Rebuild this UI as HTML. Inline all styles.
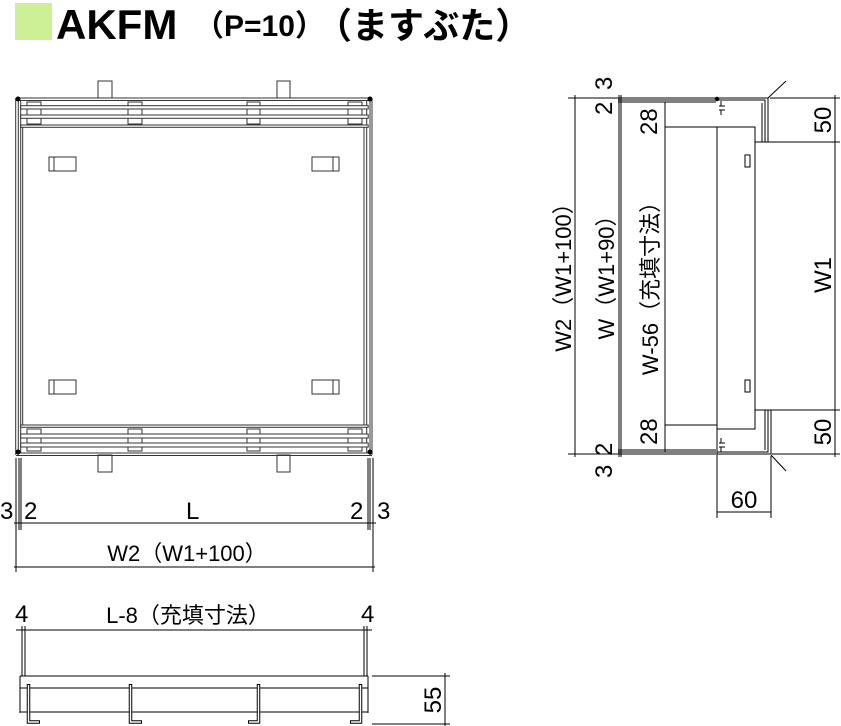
<!DOCTYPE html>
<html><head><meta charset="utf-8"><style>
html,body{margin:0;padding:0;background:#fff;}
svg{display:block;}
text{font-family:"Liberation Sans","Noto Sans CJK JP",sans-serif;fill:#000;}
</style></head><body>
<svg width="841" height="726" viewBox="0 0 841 726" xmlns="http://www.w3.org/2000/svg">
<rect x="15" y="3" width="37" height="37" fill="#cdef96"/>
<text x="56" y="39" font-size="42" font-weight="bold">AKFM</text>
<text x="194" y="36" font-size="30" font-weight="bold">（P=10）</text>
<text x="316" y="38" font-size="36" font-weight="bold">（ますぶた）</text>

<g stroke="#333" stroke-width="1" fill="none">
<rect x="98" y="81" width="14" height="17"/><rect x="277" y="81" width="13" height="17"/>
<rect x="98" y="455" width="14" height="17"/><rect x="277" y="455" width="13" height="17"/>
<line x1="16" y1="98" x2="372" y2="98"/><line x1="16" y1="100.5" x2="372" y2="100.5"/>
<line x1="16" y1="453" x2="372" y2="453"/><line x1="16" y1="455.5" x2="372" y2="455.5"/>
<line x1="15.7" y1="98" x2="15.7" y2="455"/><line x1="18.3" y1="98" x2="18.3" y2="455"/>
<line x1="20.7" y1="100" x2="20.7" y2="453"/><line x1="22.7" y1="127" x2="22.7" y2="425"/>
<line x1="364" y1="127" x2="364" y2="425"/><line x1="366.7" y1="100" x2="366.7" y2="453"/>
<line x1="370" y1="98" x2="370" y2="455"/><line x1="372" y1="98" x2="372" y2="455"/>
<rect x="27" y="102" width="14" height="22"/><rect x="128" y="102" width="14" height="22"/>
<rect x="247" y="102" width="13" height="22"/><rect x="348" y="102" width="14" height="22"/>
<rect x="27" y="429" width="14" height="22"/><rect x="128" y="429" width="14" height="22"/>
<rect x="247" y="429" width="13" height="22"/><rect x="348" y="429" width="14" height="22"/>
<g fill="#fff">
<rect x="20.7" y="105.7" width="347.5" height="3.3"/><rect x="20.7" y="115" width="347.5" height="3.3"/>
<rect x="20.7" y="125" width="347.5" height="2.3"/>
<rect x="20.7" y="425" width="347.5" height="2.3"/><rect x="20.7" y="434" width="347.5" height="4"/>
<rect x="20.7" y="443" width="347.5" height="4"/>
</g>
<rect x="49" y="157" width="27" height="14"/><line x1="54" y1="157" x2="54" y2="171"/>
<rect x="312" y="157" width="27" height="14"/><line x1="333" y1="157" x2="333" y2="171"/>
<rect x="49" y="380" width="27" height="14"/><line x1="54" y1="380" x2="54" y2="394"/>
<rect x="312" y="380" width="27" height="14"/><line x1="333" y1="380" x2="333" y2="394"/>
</g>
<circle cx="18" cy="99" r="2.5"/><circle cx="370" cy="99" r="2.5"/>
<circle cx="18" cy="452" r="2.5"/><circle cx="370" cy="452" r="2.5"/>

<g stroke="#000" stroke-width="1">
<line x1="16" y1="458" x2="16" y2="572"/><line x1="19" y1="458" x2="19" y2="530"/><line x1="21" y1="458" x2="21" y2="530"/>
<line x1="368" y1="458" x2="368" y2="530"/><line x1="370" y1="458" x2="370" y2="530"/><line x1="373" y1="458" x2="373" y2="572"/>
<line x1="14" y1="523" x2="376" y2="523"/>
<line x1="14" y1="567" x2="375" y2="567"/>
</g>
<text x="0" y="519" font-size="24">3</text><text x="24" y="519" font-size="24">2</text>
<text x="186" y="519" font-size="24">L</text>
<text x="350" y="519" font-size="24">2</text><text x="377" y="519" font-size="24">3</text>
<text x="187" y="561" font-size="22" text-anchor="middle">W2（W1+100）</text>

<text x="15" y="622" font-size="24">4</text><text x="361" y="622" font-size="24">4</text>
<text x="188" y="623" font-size="22" text-anchor="middle">L-8（充填寸法）</text>
<g stroke="#000" stroke-width="1" fill="none">
<line x1="16" y1="630" x2="372" y2="630"/>
<line x1="22" y1="626" x2="22" y2="676"/><line x1="25" y1="626" x2="25" y2="676"/>
<line x1="364" y1="626" x2="364" y2="676"/><line x1="367" y1="626" x2="367" y2="676"/>
<line x1="20" y1="676" x2="368" y2="676"/><line x1="20" y1="676" x2="20" y2="713"/><line x1="368" y1="676" x2="368" y2="713"/>
<line x1="20" y1="688" x2="368" y2="688"/><line x1="20" y1="712" x2="368" y2="712"/>
<g stroke-width="3.5"><path d="M28.5 684V722H40"/><path d="M130.5 684V722H142"/><path d="M258.5 684V722H248"/><path d="M360.5 684V722H350"/></g>
<g stroke="#fff" stroke-width="1.5"><path d="M28.5 685V722H39"/><path d="M130.5 685V722H141"/><path d="M258.5 685V722H249"/><path d="M360.5 685V722H351"/></g>
<line x1="372" y1="676" x2="450" y2="676"/><line x1="372" y1="724" x2="450" y2="724"/>
<line x1="445" y1="673" x2="445" y2="726"/>
</g>
<text transform="translate(441,700) rotate(-90)" font-size="24" text-anchor="middle">55</text>

<g stroke="#000" stroke-width="1" fill="none">
<line x1="568" y1="98" x2="716" y2="98"/><line x1="618" y1="100" x2="716" y2="100"/><line x1="618" y1="102" x2="716" y2="102"/>
<line x1="568" y1="454" x2="716" y2="454"/><line x1="618" y1="452" x2="716" y2="452"/><line x1="618" y1="450" x2="716" y2="450"/>
<line x1="575" y1="95" x2="575" y2="457"/>
<line x1="619" y1="95" x2="619" y2="457"/><line x1="621" y1="95" x2="621" y2="457"/>
<line x1="665" y1="102" x2="665" y2="452"/>
<line x1="665" y1="127" x2="717" y2="127"/><line x1="665" y1="425" x2="717" y2="425"/>
<rect x="717" y="127" width="38" height="302"/>
<line x1="717" y1="429" x2="717" y2="518"/><line x1="771" y1="456" x2="771" y2="518"/>
<line x1="717" y1="512" x2="771" y2="512"/>
<path d="M721 101V106M721 110V115M719 106h6M719 110h6"/>
<path d="M721 438V443M721 447V452M719 443h6M719 447h6"/>
<rect x="745" y="155" width="5" height="12"/><rect x="745" y="380" width="5" height="12"/>
<path d="M717 98H768V142M717 100H765V142M762 103V142M755 142H768"/>
<path d="M717 454H771V410M717 452H768V410M765 450V410M755 410H771"/>
<line x1="768" y1="98" x2="786" y2="81"/><line x1="771" y1="455" x2="786" y2="471"/>
<line x1="770" y1="98" x2="840" y2="98"/><line x1="768" y1="142" x2="840" y2="142"/>
<line x1="771" y1="410" x2="840" y2="410"/><line x1="772" y1="454" x2="840" y2="454"/>
<line x1="835" y1="95" x2="835" y2="457"/>
</g>
<circle cx="717" cy="99" r="2.2"/>
<text transform="translate(612,90) rotate(-90)" font-size="24">3</text>
<text transform="translate(612,115) rotate(-90)" font-size="24">2</text>
<text transform="translate(657,135) rotate(-90)" font-size="24">28</text>
<text transform="translate(657,445) rotate(-90)" font-size="24">28</text>
<text transform="translate(612,456) rotate(-90)" font-size="24">2</text>
<text transform="translate(612,478) rotate(-90)" font-size="24">3</text>
<text transform="translate(831,120) rotate(-90)" font-size="24" text-anchor="middle">50</text>
<text transform="translate(831,432) rotate(-90)" font-size="24" text-anchor="middle">50</text>
<text transform="translate(831,275) rotate(-90)" font-size="24" text-anchor="middle">W1</text>
<text transform="translate(571,272) rotate(-90)" font-size="22" text-anchor="middle">W2（W1+100）</text>
<text transform="translate(614,272) rotate(-90)" font-size="22" text-anchor="middle">W（W1+90）</text>
<text transform="translate(658,283) rotate(-90)" font-size="22" text-anchor="middle">W-56（充填寸法）</text>
<text x="744" y="508" font-size="24" text-anchor="middle">60</text>
</svg>
</body></html>
